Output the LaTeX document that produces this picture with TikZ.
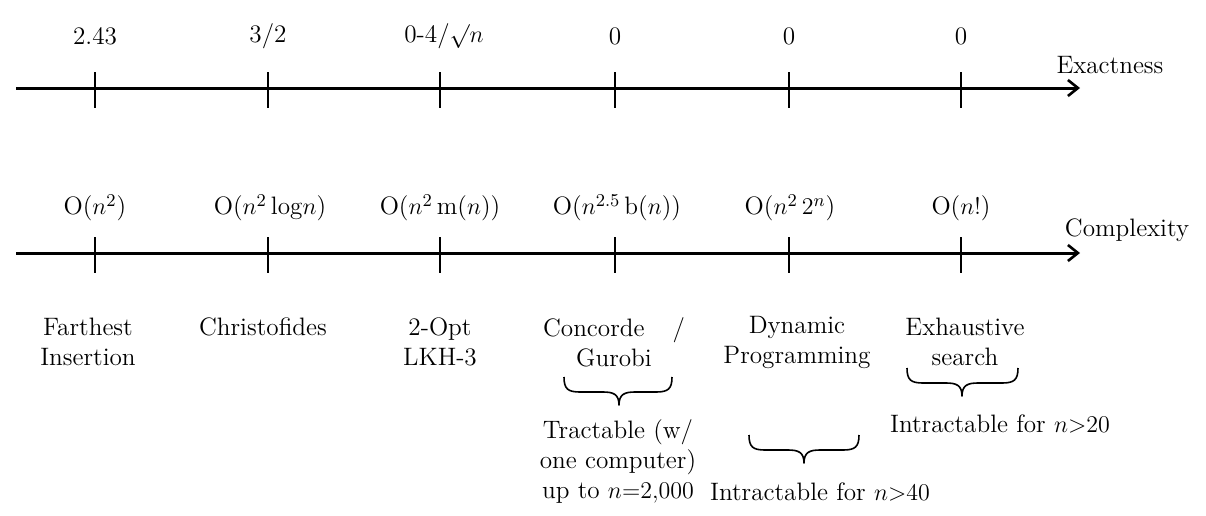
\documentclass[tikz,border=0pt]{standalone}
\usetikzlibrary{arrows.meta,calc}
\newcommand\curlybrace[3]{%
  \draw[brc] let \p1=(#1), \p2=(#2), \p3=(#3) in
    (\p1) .. controls (\x1,\y1-6pt) and (\x1+2pt,\y1-7.5pt) .. (\x1+8pt,\y1-7.5pt)
    -- (\x3-8pt,\y1-7.5pt) .. controls (\x3-3pt,\y1-7.5pt) and (\x3,\y1-8.5pt) .. (\x3,\y1-14pt)
    .. controls (\x3,\y1-8.5pt) and (\x3+3pt,\y1-7.5pt) .. (\x3+8pt,\y1-7.5pt)
    -- (\x2-8pt,\y1-7.5pt) .. controls (\x2-2pt,\y1-7.5pt) and (\x2,\y1-6pt) .. (\p2);}
\begin{document}
\begin{tikzpicture}[x=0.5pt,y=-0.5pt,
  lbl/.style={font=\fontsize{12.6}{15}\selectfont,inner sep=0pt,align=center},
  axis/.style={line width=1.5pt,-{Straight Barb[length=5pt,width=8pt,line width=1.3pt]}},
  tick/.style={line width=0.65pt},
  brc/.style={line width=0.8pt,line join=round}]
\useasboundingbox (0,0) rectangle (1206,515);
% axes
\coordinate (e0) at (16,88); \coordinate (e1) at (1080,88);
\coordinate (c0) at (16,253); \coordinate (c1) at (1080,253);
\draw[axis] (e0) -- (e1);
\draw[axis] (c0) -- (c1);
\foreach \i/\x in {1/95,2/268,3/440,4/615,5/789,6/961}{
  \coordinate (et\i) at (\x,72); \coordinate (eb\i) at (\x,108);
  \draw[tick] (et\i) -- (eb\i);
  \coordinate (ct\i) at (\x,237); \coordinate (cb\i) at (\x,273);
  \draw[tick] (ct\i) -- (cb\i);
}
\node[lbl] (exname) at (1110,65) {Exactness};
\node[lbl] (coname) at (1127,230) {Complexity};
% exactness labels
\node[lbl] (x1) at (95,36) {2.43};
\node[lbl] (x2) at (268,36) {3/2};
\node[lbl] (x3) at (444,36) {0-4/$\surd n$};
\node[lbl] (x4) at (615,36) {0};
\node[lbl] (x5) at (789,36) {0};
\node[lbl] (x6) at (961,36) {0};
% complexity labels
\node[lbl] (k1) at (95,208) {O($n^2$)};
\node[lbl] (k2) at (270,208) {O($n^2\,$log$n$)};
\node[lbl] (k3) at (440,208) {O($n^2\,$m($n$))};
\node[lbl] (k4) at (617,208) {O($n^{2.5}\,$b($n$))};
\node[lbl] (k5) at (790,208) {O($n^2\,2^n$)};
\node[lbl] (k6) at (961,208) {O($n!$)};
% methods
\node[lbl] (m1) at (88,342) {Farthest\\Insertion};
\node[lbl] (m2) at (263,327) {Christofides};
\node[lbl] (m3) at (440,342) {2-Opt\\LKH-3};
\node[lbl] (m4) at (614,342) {Concorde\hspace{14pt}/\\Gurobi};
\node[lbl] (m5) at (797,342) {Dynamic\\Programming};
\node[lbl] (m6) at (965,342) {Exhaustive\\search};
% braces
\coordinate (b1l) at (564,377); \coordinate (b1r) at (672,377); \coordinate (b1m) at (619,377);
\curlybrace{b1l}{b1r}{b1m}
\coordinate (b2l) at (749,435); \coordinate (b2r) at (859,435); \coordinate (b2m) at (804,435);
\curlybrace{b2l}{b2r}{b2m}
\coordinate (b3l) at (907,368); \coordinate (b3r) at (1018,368); \coordinate (b3m) at (962,368);
\curlybrace{b3l}{b3r}{b3m}
% notes
\node[lbl] (n1) at (618,461) {Tractable (w/\\one computer)\\up to $n{=}2{,}000$};
\node[lbl] (n2) at (820,492) {Intractable for $n{>}40$};
\node[lbl] (n3) at (1000,424) {Intractable for $n{>}20$};
\end{tikzpicture}
\end{document}
